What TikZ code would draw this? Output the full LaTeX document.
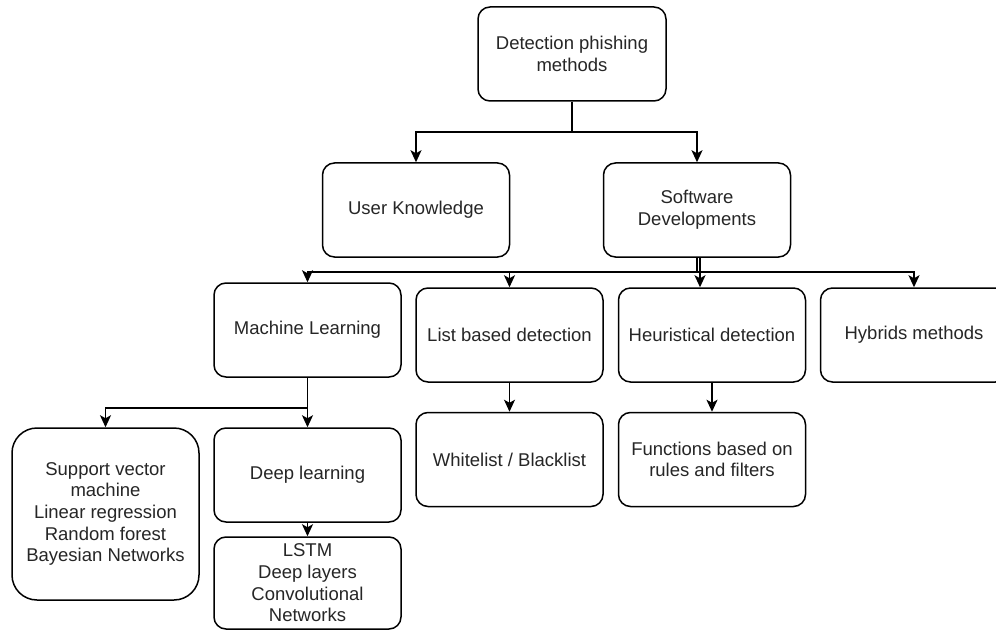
\documentclass[tikz,border=0pt]{standalone}
\usepackage{fontspec}
\setmainfont{Liberation Sans}
\usetikzlibrary{arrows.meta}

\begin{document}
\begin{tikzpicture}[x=1pt, y=1pt, line width=1.5pt, ->, >={Stealth[length=12pt,width=11pt,inset=3pt]}, every node/.append style={font=\fontsize{18.5pt}{21.7pt}\selectfont, text=black!85}]
    \tikzstyle{box}=[rectangle, draw=black, fill=white, rounded corners=12pt, minimum width=187pt, minimum height=94pt, align=center, inner sep=0pt]
    \tikzstyle{big box}=[box, rounded corners=25pt, minimum height=172pt]
    \tikzstyle{small box}=[box, minimum height=92pt]

    \useasboundingbox (0,0) rectangle (996,-631);

    % Root and first level
    \node[box, minimum width=188pt] (Root) at (572,-54) {Detection phishing\\methods};
    \node[box, node distance=156pt, below of=Root, xshift=-156pt] (User) {User Knowledge};
    \node[box, node distance=281pt, right of=User] (Software) {Software\\Developments};
    % Software developments branches
    \node[box, node distance=125pt, below of=Software, xshift=217pt] (Hybrid) {Hybrids methods};
    \node[box, node distance=202pt, left of=Hybrid] (Heuristic) {Heuristical detection};
    \node[box, node distance=202.5pt, left of=Heuristic] (List) {List based detection};
    \node[box, node distance=202pt, left of=List, yshift=5pt] (ML) {Machine Learning};
    % Leaves
    \node[box, node distance=145pt, below of=ML] (DL) {Deep learning};
    \node[small box, node distance=108pt, below of=DL] (LSTM) {LSTM\\Deep layers\\Convolutional\\Networks};
    \node[big box, node distance=202pt, left of=DL, yshift=-39pt] (SVM) {Support vector\\machine\\Linear regression\\Random forest\\Bayesian Networks};
    \node[box, node distance=124.5pt, below of=List] (White) {Whitelist / Blacklist};
    \node[box, node distance=124.5pt, below of=Heuristic] (Rules) {Functions based on\\rules and filters};

    % Split points
    \coordinate[node distance=78pt, below of=Root] (Root-split);
    \coordinate[node distance=62pt, below of=Software] (Software-split);
    \coordinate[node distance=78pt, below of=ML] (ML-split);

    % Connections
    \draw[-] (Root) -- (Root-split);
    \draw (Root-split) -| (User);
    \draw (Root-split) -| (Software);

    \draw[-] (Software) -- (Software-split);
    \draw (Software-split) -| (ML);
    \draw (Software-split) -| (List);
    \draw (Software-split) -| (Hybrid);
    \draw ([xshift=3pt]Software.south) -- ([xshift=3pt]Software.south |- Heuristic.north);

    \draw[-] (ML) -- (ML-split);
    \draw (ML-split) -| (SVM);
    \path (ML-split) edge (DL);
    \path (DL) edge (LSTM);
    \path (List) edge (White);
    \path (Heuristic) edge (Rules);

\end{tikzpicture}
\end{document}
